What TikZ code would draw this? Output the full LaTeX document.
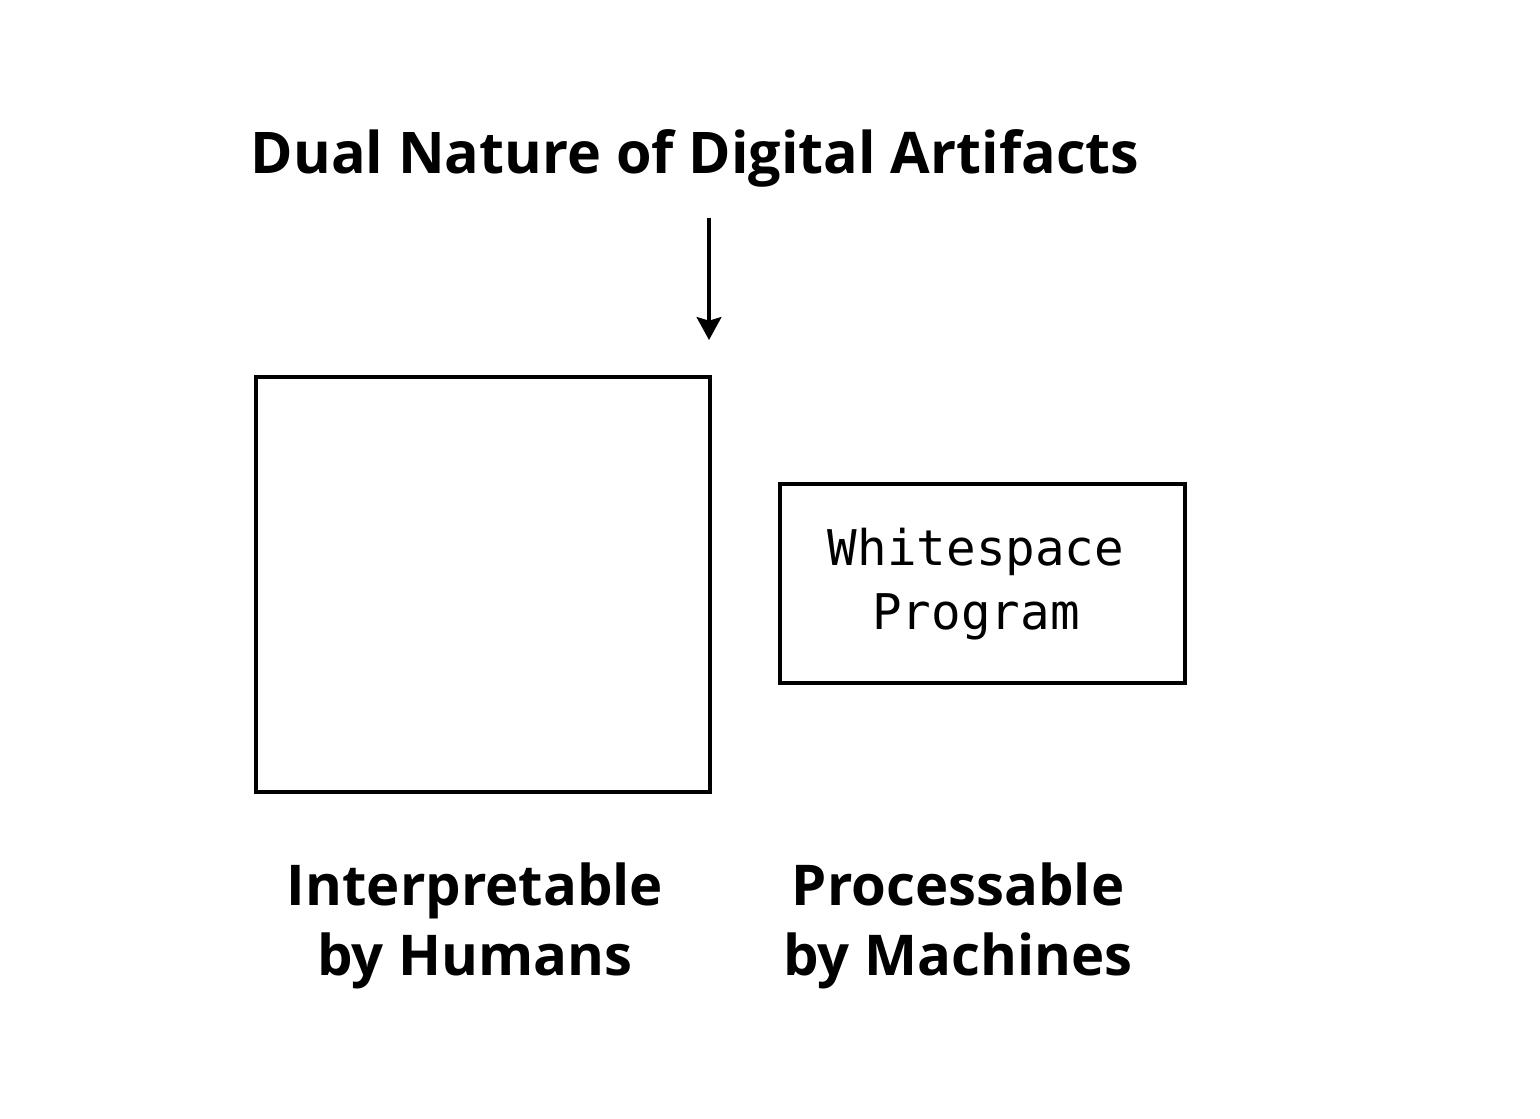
\documentclass[tikz,border=0pt]{standalone}
\usepackage{fontspec}
\setmainfont{Open Sans}
\setmonofont{DejaVu Sans Mono}
\usetikzlibrary{positioning}
\usetikzlibrary{arrows.meta}
\tikzstyle{every picture}+=[line join=miter]

\begin{document}
\begin{tikzpicture} [
            x=0.02cm, y=-0.02cm,
            frame/.style={draw, line width=2.2pt, inner sep=0pt},
            heading/.style={font=\fontsize{32.7}{40}\selectfont\bfseries},
            caption/.style={font=\fontsize{32}{40}\selectfont\bfseries, align=center},
            code/.style={font=\fontsize{28}{36}\ttfamily, align=center}
        ]
        \useasboundingbox (0,0) rectangle (1540,1118);
        \node[heading] (title) at (695,158) {Dual Nature of Digital Artifacts};
        \coordinate (arrowtop) at (709,218);
        \coordinate (arrowtip) at (709,340);
        \draw[line width=2.2pt, -{Stealth[length=13pt, width=14pt, inset=2pt]}] (arrowtop) -- (arrowtip);
        \node[frame, minimum width=9.08cm, minimum height=8.3cm] (humanbox) at (483,584.5) {};
        \node[frame, minimum width=8.1cm, minimum height=3.98cm] (machinebox) at (982.5,583.5) {};
        \node[code] (program) at (976,584) {Whitespace\\Program};
        \node[caption] (humans) at (475,926) {Interpretable\\by Humans};
        \node[caption] (machines) at (958,926) {Processable\\by Machines};
    \end{tikzpicture}
\end{document}
